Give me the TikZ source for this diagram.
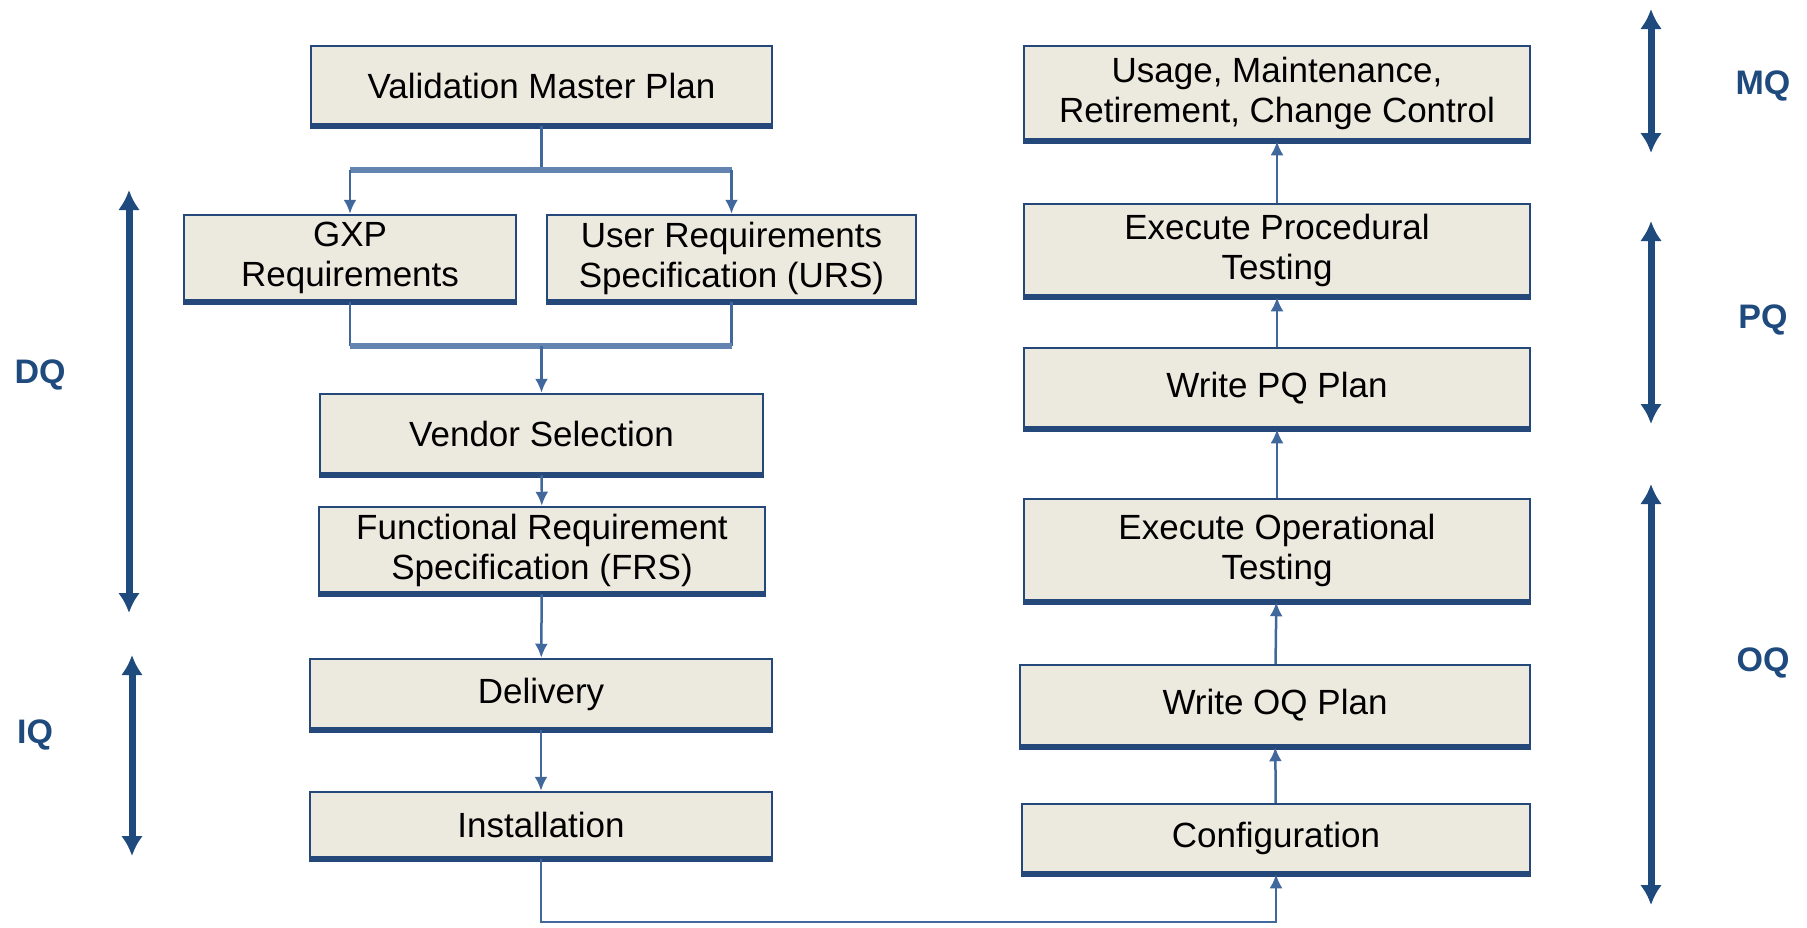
\documentclass[tikz,border=0pt]{standalone}
\usepackage{fontspec}
\setmainfont{Liberation Sans}
\usetikzlibrary{arrows.meta}
\definecolor{boxfill}{HTML}{ECEADF}
\definecolor{boxline}{HTML}{24487A}
\definecolor{linkblue}{HTML}{41689C}
\definecolor{barblue}{HTML}{6384B0}
\definecolor{phaseblue}{HTML}{1F4A7E}
\tikzset{
	stage/.style={draw=boxline,line width=2.5pt,fill=boxfill,inner sep=0pt,align=center,font=\fontsize{35}{40}\selectfont},
	link/.style={draw=linkblue,line width=2.5pt},
	linkto/.style={link,-{Latex[length=14pt,width=13pt]}},
	bar/.style={draw=barblue,line width=6pt},
	phase/.style={draw=phaseblue,line width=7pt,{Latex[length=20pt,width=22pt]}-{Latex[length=20pt,width=22pt]}},
	phaselabel/.style={text=phaseblue,font=\fontsize{34}{40}\selectfont\bfseries}
}
\begin{document}
\begin{tikzpicture}[x=1pt,y=-1pt]
	\useasboundingbox (0,0) rectangle (1807,927);
	
	\node[stage,minimum width=461pt,minimum height=79pt] (vmp) at (541.5,85.5) {Validation Master Plan};
	\node[stage,minimum width=332pt,minimum height=86pt] (gxp) at (350,258) {GXP\\Requirements};
	\node[stage,minimum width=369pt,minimum height=86pt] (urs) at (731.5,258) {User Requirements\\Specification (URS)};
	\node[stage,minimum width=443pt,minimum height=80pt] (vendor) at (541.5,434) {Vendor Selection};
	\node[stage,minimum width=446pt,minimum height=86pt] (frs) at (542,550) {Functional Requirement\\Specification (FRS)};
	\node[stage,minimum width=462pt,minimum height=70pt] (delivery) at (541,694) {Delivery};
	\node[stage,minimum width=462pt,minimum height=66pt] (install) at (541,825) {Installation};
	
	\node[stage,minimum width=506pt,minimum height=94pt] (usage) at (1277,93) {Usage, Maintenance,\\Retirement, Change Control};
	\node[stage,minimum width=506pt,minimum height=92pt] (execpq) at (1277,250) {Execute Procedural\\Testing};
	\node[stage,minimum width=506pt,minimum height=80pt] (writepq) at (1277,388) {Write PQ Plan};
	\node[stage,minimum width=506pt,minimum height=102pt] (execoq) at (1277,550) {Execute Operational\\Testing};
	\node[stage,minimum width=510pt,minimum height=81pt] (writeoq) at (1275,705.5) {Write OQ Plan};
	\node[stage,minimum width=508pt,minimum height=69pt] (config) at (1276,838.5) {Configuration};
	
	\foreach \n in {vmp,gxp,urs,vendor,frs,delivery,install,usage,execpq,writepq,execoq,writeoq,config}
		\draw[boxline,line width=6pt] (\n.south west) -- (\n.south east);
	
	\coordinate (split) at (541.5,170);
	\coordinate (join) at (541.5,346);
	\coordinate (turn) at (541,922);
	
	\draw[link] (vmp) -- (split);
	\draw[bar] (split -| gxp) -- (split -| urs);
	\draw[linkto] (split -| gxp) -- (gxp);
	\draw[linkto] (split -| urs) -- (urs);
	
	\draw[link] (gxp) -- (join -| gxp);
	\draw[link] (urs) -- (join -| urs);
	\draw[bar] (join -| gxp) -- (join -| urs);
	\draw[linkto] (join) -- (vendor);
	
	\draw[linkto] (vendor) -- (frs);
	\draw[linkto] (frs) -- (delivery);
	\draw[linkto] (delivery) -- (install);
	\draw[linkto] (install) -- (turn) -| (config);
	
	\draw[linkto] (config) -- (writeoq);
	\draw[linkto] (writeoq) -- (execoq);
	\draw[linkto] (execoq) -- (writepq);
	\draw[linkto] (writepq) -- (execpq);
	\draw[linkto] (execpq) -- (usage);
	
	\foreach \p/\x/\ya/\yb/\lx/\ly in {DQ/129/190/613/40/375,IQ/132/655/856/35/735,MQ/1651/9/153/1763/86,PQ/1651/221/424/1763/320,OQ/1651/484/905/1763/663}{
		\coordinate (\p top) at (\x,\ya);
		\coordinate (\p bot) at (\x,\yb);
		\draw[phase] (\p top) -- (\p bot);
		\node[phaselabel] (\p label) at (\lx,\ly) {\p};
	}
\end{tikzpicture}
\end{document}
